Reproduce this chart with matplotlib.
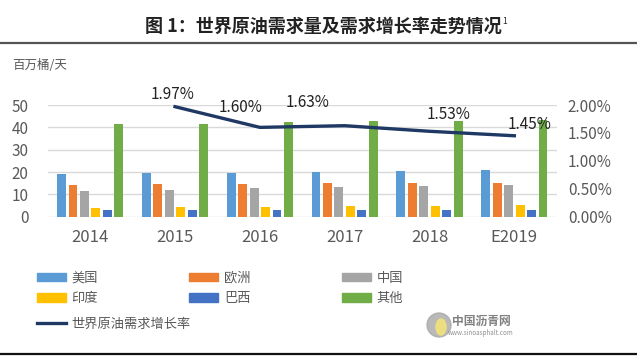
import matplotlib.pyplot as plt
import numpy as np
from matplotlib.lines import Line2D
from matplotlib.patches import Patch, Ellipse

plt.rcParams['font.family'] = ['Noto Sans CJK SC', 'DejaVu Sans']

# data
years = ['2014', '2015', '2016', '2017', '2018', 'E2019']
regions = ['美国', '欧洲', '中国', '印度', '巴西', '其他']
usa = [19.0, 19.5, 19.8, 20.1, 20.6, 20.9]
europe = [14.3, 14.5, 14.7, 15.0, 15.0, 15.0]
china = [11.5, 12.2, 12.8, 13.4, 13.8, 14.3]
india = [4.0, 4.3, 4.6, 4.8, 4.8, 5.2]
brazil = [3.2, 3.1, 3.0, 3.0, 3.0, 3.0]
other = [41.7, 41.7, 42.3, 42.9, 43.0, 43.5]
growth_years = ['2015', '2016', '2017', '2018', 'E2019']
growth = [1.97, 1.60, 1.63, 1.53, 1.45]

colors = ['#5B9BD5', '#ED7D31', '#A5A5A5', '#FFC000', '#4472C4', '#70AD47']
line_color = '#1F3864'
grey = '#595959'

fig = plt.figure(figsize=(6.37, 3.56), dpi=100)
ax = fig.add_axes([0.075, 0.391, 0.799, 0.314])

x = np.arange(len(years))
series = [usa, europe, china, india, brazil, other]
w = 0.105
step = 0.135
for i, (vals, c) in enumerate(zip(series, colors)):
    ax.bar(x + (i - 2.5) * step, vals, width=w, color=c, zorder=3)

ax.set_xlim(-0.5, len(years) - 0.5)
ax.set_ylim(0, 50)
ax.set_yticks([0, 10, 20, 30, 40, 50])
ax.grid(axis='y', color='#D9D9D9', linewidth=1, zorder=0)
for s in ax.spines.values():
    s.set_visible(False)
ax.tick_params(length=0, colors=grey, labelsize=11)
ax.tick_params(axis='y', pad=14)
ax.tick_params(axis='x', pad=9, labelsize=12)
ax.set_xticks(x)
ax.set_xticklabels(years)

ax2 = ax.twinx()
ax2.set_ylim(0, 2.0)
ax2.set_yticks([0, 0.5, 1.0, 1.5, 2.0])
ax2.set_yticklabels(['%.2f%%' % v for v in [0, 0.5, 1.0, 1.5, 2.0]])
for s in ax2.spines.values():
    s.set_visible(False)
ax2.tick_params(length=0, colors=grey, labelsize=11, pad=8)
gx = [years.index(g) for g in growth_years]
ax2.plot(gx, growth, color=line_color, linewidth=2.4, zorder=5, clip_on=False)
offsets = [(-2, 9), (-14, 14), (-27, 17), (14, 12), (11, 8)]
for xi, v, off in zip(gx, growth, offsets):
    ax2.annotate('%.2f%%' % v, (xi, v), xytext=off, textcoords='offset points',
                 ha='center', va='center', fontsize=11, color='#222222',
                 annotation_clip=False, zorder=6)

# title and separator lines
fig.text(0.228, 0.925, '图 1：世界原油需求量及需求增长率走势情况', ha='left', va='center',
         fontsize=13, fontweight='bold', color='#222222')
fig.text(0.789, 0.94, '1', fontsize=6, color='#222222', ha='left', va='center')
fig.add_artist(Line2D([0, 1], [0.878, 0.878], color='#555555', linewidth=1.6))
fig.add_artist(Line2D([0, 1], [0.006, 0.006], color='#111111', linewidth=1.6))
fig.text(0.019, 0.815, '百万桶/天', fontsize=9, color=grey, va='center')

# legend, filled row by row
order = [0, 3, 1, 4, 2, 5]
handles = [Patch(color=colors[i]) for i in order]
labels = [regions[i] for i in order]
lg = fig.legend(handles, labels, loc='upper left', bbox_to_anchor=(0.039, 0.27),
                ncol=3, frameon=False, fontsize=9.5, handlelength=2.2, handleheight=0.6,
                columnspacing=6.9, labelspacing=0.55, handletextpad=0.45)
for t in lg.get_texts():
    t.set_color(grey)
lg2 = fig.legend([Line2D([0], [0], color=line_color, linewidth=2.4)], ['世界原油需求增长率'],
                 loc='upper left', bbox_to_anchor=(0.039, 0.14), frameon=False,
                 fontsize=9.5, handlelength=2.2, handletextpad=0.45)
for t in lg2.get_texts():
    t.set_color(grey)

# watermark
fig.add_artist(Ellipse((439 / 637, 1 - 325 / 356), 24 / 637, 24 / 356,
                       transform=fig.transFigure, color='#A8A8A8', alpha=0.8))
fig.add_artist(Ellipse((441 / 637, 1 - 327 / 356), 10 / 637, 16 / 356,
                       transform=fig.transFigure, color='#F2E27A', alpha=0.9))
fig.text(481 / 637, 1 - 321 / 356, '中国沥青网', fontsize=8.5, fontweight='bold',
         color='#808080', ha='center', va='center')
fig.text(481 / 637, 1 - 333 / 356, 'www.sinoasphalt.com', fontsize=4.5, color='#909090',
         ha='center', va='center')

fig.savefig('out.png', dpi=100, facecolor='white')
